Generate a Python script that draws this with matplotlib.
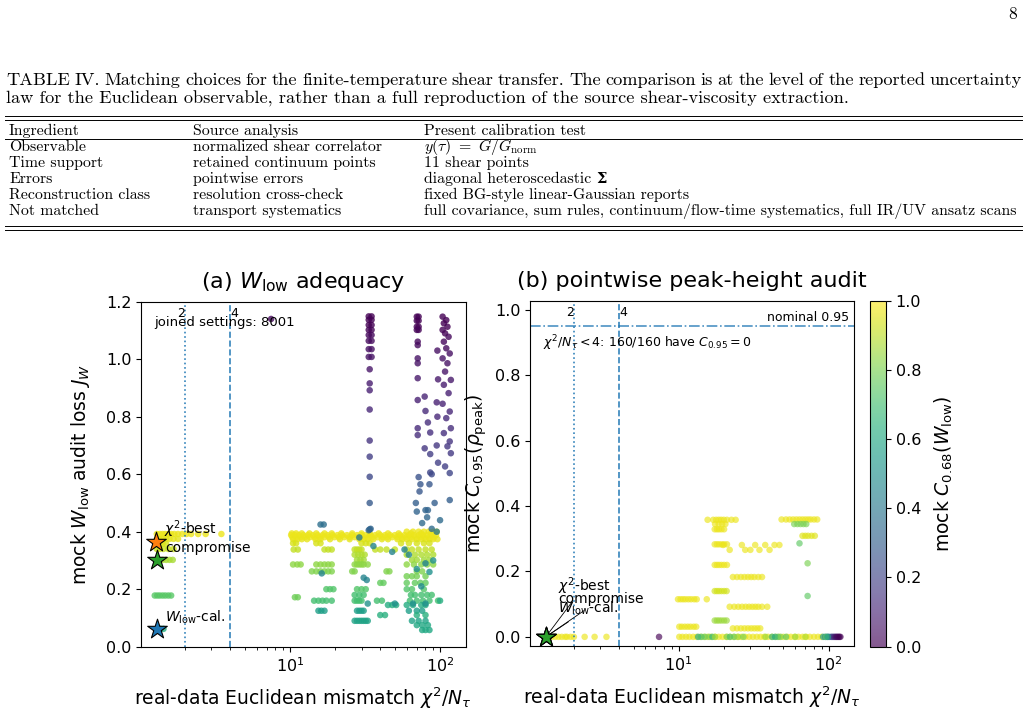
import matplotlib
matplotlib.use('Agg')
import matplotlib.pyplot as plt
from matplotlib.lines import Line2D

plt.rcParams['font.family'] = ['DejaVu Sans']
plt.rcParams['font.size'] = 11.5
plt.rcParams['axes.labelsize'] = 13.5
plt.rcParams['axes.titlesize'] = 16

# ---- table text ----
page_number = '8'
caption_1 = 'TABLE IV. Matching choices for the finite-temperature shear transfer.  The comparison is at the level of the reported uncertainty'
caption_2 = 'law for the Euclidean observable, rather than a full reproduction of the source shear-viscosity extraction.'
table_header = ['Ingredient', 'Source analysis', 'Present calibration test']
table_rows = [
    ['Observable', 'normalized shear correlator', r'$y(\tau)\ =\ G/G_{\mathrm{norm}}$'],
    ['Time support', 'retained continuum points', '11 shear points'],
    ['Errors', 'pointwise errors', 'diagonal heteroscedastic'],
    ['Reconstruction class', 'resolution cross-check', 'fixed BG-style linear-Gaussian reports'],
    ['Not matched', 'transport systematics',
     'full covariance, sum rules, continuum/flow-time systematics, full IR/UV ansatz scans'],
]

# ---- panel (a): W_low adequacy, horizontal streaks (y, colour value, x list) ----
a_rows_y = [0.392, 0.375, 0.358, 0.340, 0.302, 0.178, 0.062,
            0.388, 0.374, 0.400, 0.360, 0.338, 0.320, 0.302, 0.286, 0.262, 0.245,
            0.222, 0.200, 0.180, 0.172, 0.160, 0.145, 0.125, 0.110, 0.090, 0.075, 0.058,
            0.381, 0.394]
a_rows_c = [0.97, 0.96, 0.94, 0.92, 0.87, 0.74, 0.62,
            0.97, 0.96, 0.97, 0.94, 0.91, 0.88, 0.86, 0.83, 0.81, 0.79,
            0.76, 0.73, 0.70, 0.78, 0.70, 0.62, 0.56, 0.63, 0.58, 0.60, 0.60,
            0.97, 0.97]
a_rows_x = [
    [1.30, 1.36, 1.42, 1.48, 1.55, 1.62, 1.70, 1.80, 1.92, 2.05, 2.2, 2.45, 2.75, 3.5],
    [1.30, 1.36, 1.43, 1.50, 1.58, 1.68, 1.8],
    [1.30, 1.36, 1.42, 1.5],
    [1.30, 1.36, 1.44, 1.55, 1.68],
    [1.30, 1.36, 1.42, 1.5, 1.58, 1.66],
    [1.26, 1.31, 1.36, 1.42, 1.48, 1.55, 1.62],
    [1.33, 1.38, 1.44],
    [10.2, 10.8, 11.5, 12.3, 13.2, 14.2, 15.3, 16.5, 17.8, 19.2, 20.7, 22.3, 24.0, 26.0, 28.0, 30.0,
     32.0, 34.5, 37.0, 40.0, 43.0, 46.5, 50.0, 54.0, 58.0, 62.0, 67.0, 72.0, 77.0, 82.0, 88.0, 94.0],
    [10.5, 11.2, 12.0, 13.0, 14.8, 16.0, 18.5, 21.5, 25.0, 29.0, 31.0, 33.0, 36.0, 41.0, 45.0, 52.0,
     56.0, 60.0, 65.0, 70.0, 75.0, 80.0, 85.0, 90.0, 96.0],
    [60, 66, 72, 78, 84, 90, 95],
    [10.5, 11.0, 15.0, 16.0, 30.0, 32.0, 34.0, 55.0, 62.0, 70.0, 78.0, 85.0],
    [10.6, 11.3, 17.0, 18.0, 19.0, 27.0, 28.0, 29.0, 30.0, 37.0, 40.0, 44.0, 50.0, 60.0, 65.0, 72.0, 80.0, 88.0],
    [27, 28.5, 30, 31.5, 60, 68, 75, 82, 90],
    [28, 29.5, 31, 65, 70, 78, 85],
    [10.5, 11.2, 11.8, 15, 16, 17, 18, 19, 27, 28, 29, 30, 31, 33, 60, 67, 75, 82, 90],
    [14, 15, 16, 17, 18, 19, 26, 27, 44, 46, 70, 76],
    [60, 65, 70, 80],
    [40, 42, 60, 68, 74, 80],
    [17.5, 18.5, 19.5, 28, 30, 32, 60, 65, 78],
    [27, 29, 31, 64, 68, 75, 82, 88],
    [10.8, 11.3],
    [14.5, 15.5, 16.5, 17.5, 19, 27, 28, 29, 30, 38, 41, 63, 70, 77, 85, 97],
    [45, 48, 51, 60, 66, 75, 80],
    [15.5, 16.2, 17, 28, 29, 30, 31, 62, 70, 76],
    [40, 43, 70, 80],
    [27, 28, 29, 30, 31, 32, 33, 65, 72, 80],
    [70, 76, 83],
    [76, 80, 85],
    [10.4, 11.0, 11.8, 12.6, 13.6, 14.6, 15.8, 17.0, 18.2, 19.8, 21.2, 23.0, 25.0, 27.0, 29.0, 31.0,
     33.5, 35.5, 38.5, 41.5, 44.5, 48.0, 52.0, 56.0, 60.0, 64.0, 69.0, 74.0, 79.0, 85.0, 91.0],
    [10.3, 11.0, 12.0, 13.5, 15.0, 17.0, 19.0, 22.0, 26.0, 30.0, 34.0, 39.0, 45.0, 53.0, 64.0, 75.0, 87.0],
]

# scattered single points and the three high-loss columns
a_pts_x = [16.0, 16.8, 16.3, 32.5, 31.0, 33.5, 34.5, 29.0, 36, 48, 58, 62, 70, 75, 80, 85, 88, 95, 90,
           66, 50, 33, 80, 100, 69, 70, 80, 83, 82, 76, 92, 100, 116, 73, 74, 85, 72, 7.5,
           # column near 34
           33.5, 35, 33.5, 35, 33.5, 35, 33.5, 35, 33.5, 35, 33.5, 35, 33.5, 35, 33.5, 35, 34, 34, 34, 34, 34,
           34, 34, 34, 34,
           # column near 72
           70, 72, 70, 72, 70, 72, 70, 72, 71, 71, 71, 71, 71, 71, 71, 71, 79, 80, 83, 86, 79, 86, 86, 88,
           # column near 110
           104, 110, 106, 112, 104, 108, 114, 106, 110, 116, 104, 112, 108, 118, 106, 114, 104, 116, 110,
           118, 106, 116, 112, 118, 108, 116, 96, 97, 95, 96, 95, 97]
a_pts_y = [0.425, 0.425, 0.255, 0.232, 0.24, 0.405, 0.41, 0.38, 0.35, 0.33, 0.338, 0.32, 0.27, 0.21, 0.29,
           0.26, 0.41, 0.40, 0.30, 0.15, 0.15, 0.15, 0.15, 0.16, 0.50, 0.47, 0.475, 0.475, 0.45, 0.43, 0.50,
           0.44, 0.51, 0.54, 0.565, 0.565, 0.59, 1.14,
           1.149, 1.149, 1.137, 1.137, 1.119, 1.119, 1.102, 1.102, 1.084, 1.084, 1.064, 1.064, 1.035, 1.035,
           1.008, 1.008, 0.965, 0.916, 0.892, 0.825, 0.717, 0.661, 0.591, 0.500, 0.408,
           1.148, 1.148, 1.134, 1.134, 1.113, 1.113, 1.102, 1.102, 1.061, 1.049, 1.003, 0.986, 0.934, 0.858,
           0.760, 0.736, 0.87, 0.82, 0.78, 0.745, 0.69, 0.67, 0.606, 0.60,
           1.148, 1.136, 1.125, 1.113, 1.102, 1.090, 1.078, 1.061, 1.038, 1.020, 1.003, 0.986, 0.957, 0.928,
           0.911, 0.882, 0.845, 0.818, 0.795, 0.760, 0.743, 0.714, 0.697, 0.673, 0.627, 0.604,
           1.03, 0.93, 0.85, 0.80, 0.70, 0.64]
a_pts_c = [0.36, 0.36, 0.45, 0.45, 0.45, 0.33, 0.33, 0.40, 0.45, 0.45, 0.45, 0.45, 0.50, 0.48, 0.45, 0.50,
           0.35, 0.40, 0.50, 0.50, 0.50, 0.50, 0.50, 0.62, 0.30, 0.32, 0.32, 0.32, 0.33, 0.35, 0.30, 0.35,
           0.30, 0.27, 0.27, 0.27, 0.25, 0.02,
           0.0, 0.0, 0.0, 0.0, 0.0, 0.0, 0.01, 0.01, 0.02, 0.02, 0.03, 0.03, 0.04, 0.04, 0.05, 0.05, 0.06,
           0.08, 0.09, 0.11, 0.15, 0.18, 0.22, 0.28, 0.32,
           0.0, 0.0, 0.0, 0.0, 0.0, 0.0, 0.01, 0.01, 0.02, 0.03, 0.05, 0.05, 0.07, 0.09, 0.12, 0.13, 0.10,
           0.12, 0.13, 0.14, 0.16, 0.18, 0.21, 0.22,
           0.0, 0.0, 0.0, 0.0, 0.01, 0.01, 0.02, 0.02, 0.03, 0.04, 0.05, 0.05, 0.06, 0.07, 0.08, 0.09, 0.10,
           0.11, 0.12, 0.13, 0.14, 0.15, 0.16, 0.17, 0.19, 0.21,
           0.04, 0.07, 0.09, 0.11, 0.16, 0.19]

# ---- panel (b): pointwise peak-height audit ----
b_rows_y = [0.0, 0.0, 0.031, 0.115, 0.050, 0.140, 0.220, 0.283, 0.329, 0.358, 0.345, 0.281, 0.266,
            0.183, 0.092, 0.026, 0.359, 0.345, 0.309]
b_rows_c = [0.97, 0.97, 0.97, 0.97, 0.85, 0.93, 0.97, 0.97, 0.97, 0.97, 0.97, 0.97, 0.97,
            0.97, 0.97, 0.97, 0.97, 0.80, 0.95]
b_rows_x = [
    [1.35, 1.42, 1.5, 1.58, 1.66, 1.75, 1.8, 1.9, 2.0, 2.36, 2.75, 3.3],
    [10.1, 10.6, 11.2, 11.8, 12.5, 13.2, 14, 14.8, 15.6, 16.5, 17.5, 18.5, 19.6, 20.8, 22, 23.3, 24.7,
     26.2, 27.8, 29.5, 31.3, 33.2, 35.2, 37.3, 39.5, 42, 44.5, 47, 50, 53, 56, 59.5, 63, 67, 71, 75, 80,
     85, 90],
    [10.1, 10.5, 11, 11.5, 12, 12.6, 13.1],
    [9.9, 10.3, 10.7, 11.1, 11.6, 12.1, 12.7, 13.2, 15.4],
    [17.4, 18, 18.6, 19.3, 20.1, 20.9],
    [17.4, 18, 18.6, 19.3, 20.1, 20.9],
    [17.4, 18, 18.6, 19.3, 20.1, 21],
    [17.4, 18, 18.6, 19.3, 20.1, 21],
    [17.4, 18, 18.6, 19.3, 20.1],
    [15.6, 17, 17.8, 18.5, 19.2, 20, 21, 22.5, 24],
    [17.5, 18.5, 19.5, 20.5],
    [19.8, 26.4, 32.4, 37.8, 43.6, 47],
    [21.9, 27.8, 30.1, 34.6, 40.4],
    [23, 24.5, 26, 27.5, 29, 30.5, 32, 34, 36],
    [21.9, 23.5, 25, 26.5, 28, 29.5, 31, 32.5, 34, 36, 39],
    [23, 24.5, 26, 27.5, 29, 30.5, 32, 33.5, 35],
    [48.6, 52, 55, 58, 61, 64, 67, 70, 73, 76, 80, 84],
    [59, 62, 65, 68, 71],
    [67, 70, 73, 77, 81],
]
b_pts_x = [7.4, 13.5, 14.2, 15, 16, 16.8, 17.5, 21, 22, 23.5, 25, 27, 38, 42, 44, 46, 48, 52, 60, 70,
           92, 95, 98, 101, 104, 106, 108, 110, 112, 114, 116, 118, 120, 96, 99, 64, 72.5, 72.5]
b_pts_y = [0.0] * 35 + [0.286, 0.225, 0.125]
b_pts_c = [0.0, 0.6, 0.7, 0.75, 0.8, 0.65, 0.85, 0.8, 0.7, 0.75, 0.85, 0.8, 0.85, 0.65, 0.6, 0.7, 0.8,
           0.75, 0.85, 0.88, 0.55, 0.45, 0.35, 0.3, 0.25, 0.2, 0.15, 0.1, 0.05, 0.03, 0.02, 0.01, 0.0,
           0.75, 0.6, 0.75, 0.8, 0.75]

# highlighted settings
star_labels = [r'$\chi^2$-best', r'$W_{\rm low}$-cal.', 'compromise']
star_colors = ['#ff7f0e', '#1f77b4', '#2ca02c']
star_x_a = [1.28, 1.30, 1.30]
star_y_a = [0.365, 0.06, 0.30]
star_x_b = [1.30, 1.30, 1.30]
star_y_b = [0.0, 0.0, 0.0]


def expand(rows_y, rows_c, rows_x):
    xs, ys, cs = [], [], []
    for y, c, xl in zip(rows_y, rows_c, rows_x):
        xs += list(xl)
        ys += [y] * len(xl)
        cs += [c] * len(xl)
    return xs, ys, cs


fig = plt.figure(figsize=(10.29, 7.16), dpi=100)

# page layer in pixel coordinates
page = fig.add_axes([0, 0, 1, 1], zorder=-1)
page.set_xlim(0, 1029)
page.set_ylim(716, 0)
page.axis('off')
serif = dict(family='cmr10', math_fontfamily='cm')
page.text(1013, 14, page_number, ha='center', va='center', fontsize=12.5, **serif)

renderer = fig.canvas.get_renderer()
words = caption_1.split(' ')
texts = [page.text(0, 80, w, ha='left', va='center', fontsize=13.2, **serif) for w in words if w]
widths = [t.get_window_extent(renderer).width for t in texts]
gap = (1022 - 6 - sum(widths)) / (len(texts) - 1)
xpos = 6
for t, w in zip(texts, widths):
    t.set_x(xpos)
    xpos += w + gap
page.text(6, 99, caption_2, ha='left', va='center', fontsize=13.2, **serif)

col_x = [9, 193, 424]
for x, s in zip(col_x, table_header):
    page.text(x, 131, s, ha='left', va='center', fontsize=11.4, **serif)
for i, row in enumerate(table_rows):
    for x, s in zip(col_x, row):
        t = page.text(x, 147 + 16 * i, s, ha='left', va='center', fontsize=11.4, **serif)
        if s == 'diagonal heteroscedastic':
            w = t.get_window_extent(renderer).width
            page.text(x + w + 5, 147 + 16 * i, '\u03a3', ha='left', va='center', fontsize=10.5,
                      family='DejaVu Serif', fontweight='bold')
for yl in [116, 120, 139, 226, 230]:
    page.add_line(Line2D([5, 1022], [yl, yl], color='black', lw=0.7))

# ---- panel (a) ----
ax1 = fig.add_axes([0.1370, 0.0968, 0.3155, 0.4818])
xa, ya, ca = expand(a_rows_y, a_rows_c, a_rows_x)
ax1.scatter(xa + a_pts_x, ya + a_pts_y, c=ca + a_pts_c, cmap='viridis', vmin=0, vmax=1,
            s=22, alpha=0.8, linewidths=0)
ax1.set_xscale('log')
ax1.set_xlim(1.02, 148)
ax1.set_ylim(0, 1.2)
for xv, ls in [(2, ':'), (4, '--')]:
    ax1.axvline(xv, color='#1f77b4', ls=ls, lw=1.2, alpha=0.9)
ax1.text(2, 0.985, '2', transform=ax1.get_xaxis_transform(), ha='right', va='top', fontsize=9)
ax1.text(4, 0.985, '4', transform=ax1.get_xaxis_transform(), ha='left', va='top', fontsize=9)
ax1.text(0.04, 0.96, 'joined settings: 8001', transform=ax1.transAxes, ha='left', va='top', fontsize=9.5)
for lab, col, x, y in zip(star_labels, star_colors, star_x_a, star_y_a):
    ax1.scatter([x], [y], marker='*', s=220, color=col, edgecolors='black', linewidths=0.8, zorder=5)
    ax1.annotate(lab, (x, y), xytext=(6, 9), textcoords='offset points', ha='left', va='center', fontsize=10)
ax1.set_title(r'(a) $W_{\rm low}$ adequacy', pad=10)
ax1.set_xlabel(r'real-data Euclidean mismatch $\chi^2/N_\tau$', labelpad=7.5)
ax1.set_ylabel(r'mock $W_{\rm low}$ audit loss $J_W$', labelpad=10)

# ---- panel (b) ----
ax2 = fig.add_axes([0.5151, 0.0982, 0.3149, 0.4818])
xb, yb, cb_ = expand(b_rows_y, b_rows_c, b_rows_x)
sc = ax2.scatter(xb + b_pts_x, yb + b_pts_y, c=cb_ + b_pts_c, cmap='viridis', vmin=0, vmax=1,
                 s=22, alpha=0.65, linewidths=0)
ax2.set_xscale('log')
ax2.set_xlim(1.02, 148)
ax2.set_ylim(-0.027, 1.028)
for xv, ls in [(2, ':'), (4, '--')]:
    ax2.axvline(xv, color='#1f77b4', ls=ls, lw=1.2, alpha=0.9)
ax2.axhline(0.95, color='#1f77b4', ls='-.', lw=1.2, alpha=0.8)
ax2.text(2, 0.985, '2', transform=ax2.get_xaxis_transform(), ha='right', va='top', fontsize=9)
ax2.text(4, 0.985, '4', transform=ax2.get_xaxis_transform(), ha='left', va='top', fontsize=9)
ax2.text(0.985, 0.958, 'nominal 0.95', transform=ax2.get_yaxis_transform(), ha='right', va='bottom',
         fontsize=9)
ax2.text(0.04, 0.878, r'$\chi^2/N_\tau < 4$: 160/160 have $C_{0.95} = 0$', transform=ax2.transAxes,
         ha='left', va='center', fontsize=9)
b_offsets = [(8.6, 29), (8.6, 14), (8.6, 22)]
for lab, col, x, y, off in zip(star_labels, star_colors, star_x_b, star_y_b, b_offsets):
    ax2.scatter([x], [y], marker='*', s=220, color=col, edgecolors='black', linewidths=0.8, zorder=5)
    ax2.annotate(lab, (x, y), xytext=off, textcoords='offset points', ha='left', va='bottom', fontsize=10,
                 arrowprops=dict(arrowstyle='-', color='black', lw=0.6))
ax2.set_title('(b) pointwise peak-height audit', pad=10)
ax2.set_xlabel(r'real-data Euclidean mismatch $\chi^2/N_\tau$', labelpad=7.5)
ax2.set_ylabel(r'mock $C_{0.95}(\rho_{\rm peak})$')

cax = fig.add_axes([0.8455, 0.0968, 0.0155, 0.4832])
cbar = fig.colorbar(sc, cax=cax)
cbar.set_label(r'mock $C_{0.68}(W_{\rm low})$', labelpad=8)

fig.savefig('out.png', dpi=100)
